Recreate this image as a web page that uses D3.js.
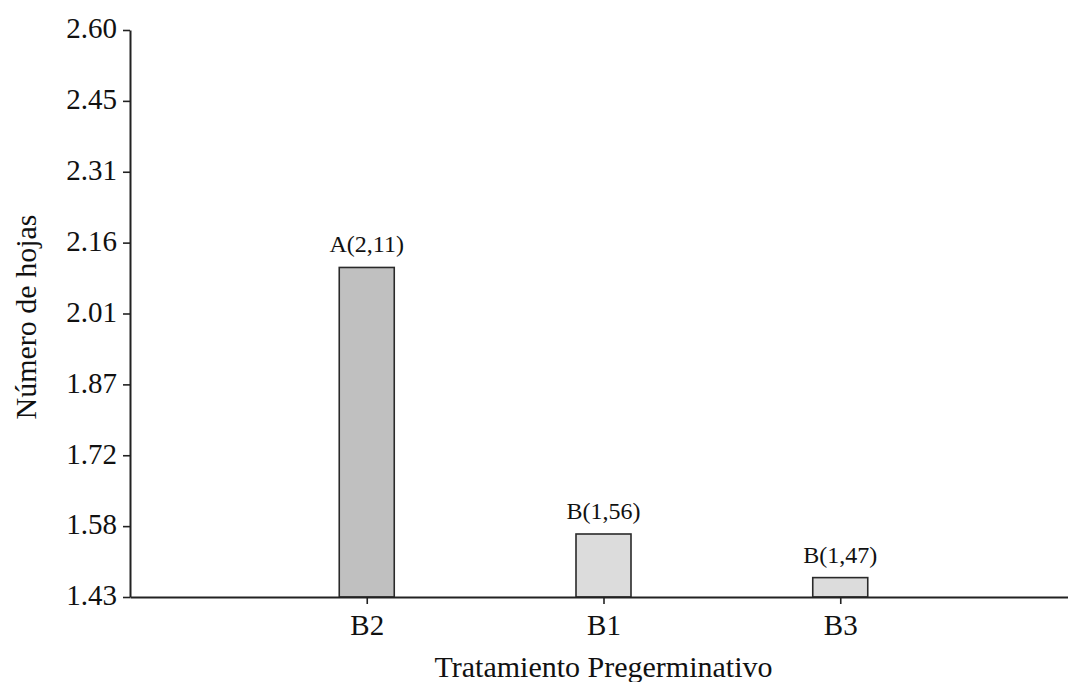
<!DOCTYPE html>
<html><head><meta charset="utf-8">
<script src="https://cdn.jsdelivr.net/npm/d3@7"></script>
<style>body{margin:0;background:#fff}svg{display:block}text{font-family:"Liberation Serif","Times New Roman",serif;fill:#111}</style>
</head><body><svg id="c" width="1068" height="682"></svg>
<script>
const categories = ["B2", "B1", "B3"];
const values = [2.11, 1.56, 1.47];
const barLabels = ["A(2,11)", "B(1,56)", "B(1,47)"];
const fills = ["#c0c0c0", "#dcdcdc", "#dcdcdc"];
const yTickValues = [1.43, 1.57625, 1.7225, 1.86875, 2.015, 2.16125, 2.3075, 2.45375, 2.60];
const yTickLabels = ["1.43", "1.58", "1.72", "1.87", "2.01", "2.16", "2.31", "2.45", "2.60"];
const xTitle = "Tratamiento Pregerminativo";
const yTitle = "Número de hojas";

const svg = d3.select("#c");
const x0 = 130, yBottom = 597, yTop = 30;
const y = d3.scaleLinear().domain([1.43, 2.60]).range([yBottom, yTop]);
const x = d3.scalePoint().domain(categories).range([x0, 1077]).padding(1);
const barW = 55;

// bars
svg.selectAll("rect.bar").data(categories).enter().append("rect")
  .attr("x", (d) => x(d) - barW / 2)
  .attr("y", (d, i) => y(values[i]))
  .attr("width", barW)
  .attr("height", (d, i) => yBottom - y(values[i]))
  .attr("fill", (d, i) => fills[i])
  .attr("stroke", "#2a2a2a").attr("stroke-width", 1.6);

svg.selectAll("text.lab").data(categories).enter().append("text")
  .attr("x", (d) => x(d))
  .attr("y", (d, i) => y(values[i]) - 15)
  .attr("text-anchor", "middle").attr("font-size", 24)
  .text((d, i) => barLabels[i]);

// y axis
const yAxis = d3.axisLeft(y).tickValues(yTickValues).tickFormat((d, i) => yTickLabels[i]).tickSize(7).tickSizeOuter(0);
const gy = svg.append("g").attr("transform", `translate(${x0},0)`).call(yAxis);
gy.select(".domain").attr("stroke", "#222").attr("stroke-width", 2);
gy.selectAll(".tick line").attr("stroke", "#222").attr("stroke-width", 1.6);
gy.selectAll(".tick text").attr("font-size", 29).attr("font-family", "Liberation Serif").attr("fill", "#111").attr("x", -13).attr("dy", "0.27em");

// x axis
const xAxis = d3.axisBottom(x).tickSize(7).tickSizeOuter(0);
const gx = svg.append("g").attr("transform", `translate(0,${yBottom})`).call(xAxis);
gx.select(".domain").attr("stroke", "#222").attr("stroke-width", 2);
gx.selectAll(".tick line").attr("stroke", "#222").attr("stroke-width", 1.6);
gx.selectAll(".tick text").attr("font-size", 29).attr("font-family", "Liberation Serif").attr("fill", "#111").attr("y", 38).attr("dy", null);

// titles
svg.append("text").attr("x", x(categories[1])).attr("y", 677).attr("text-anchor", "middle").attr("font-size", 30).text(xTitle);
svg.append("text").attr("transform", "translate(36,317) rotate(-90)").attr("text-anchor", "middle").attr("font-size", 30).text(yTitle);
</script></body></html>
